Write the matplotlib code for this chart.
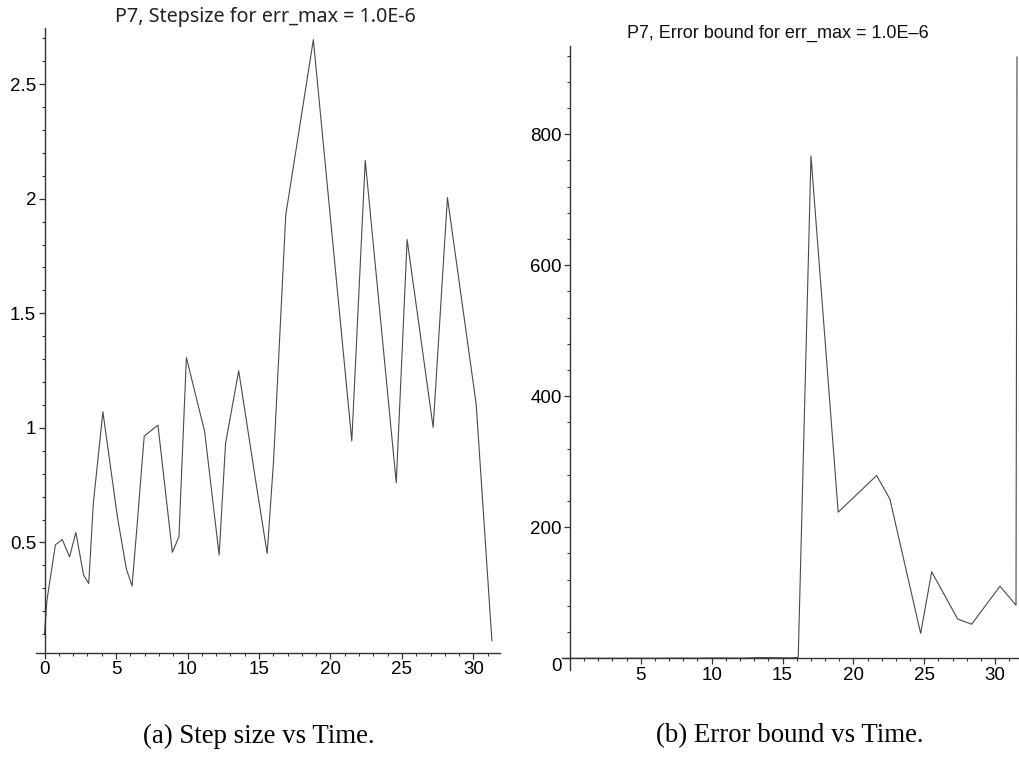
"""
plot.py
Step size and error bound vs time, problem P7 (err_max = 1.0E-6)
"""
import matplotlib
matplotlib.use('Agg')
import matplotlib.pyplot as plt
from matplotlib.ticker import MultipleLocator

# Step size data (time, step size)
step_time = [0.0, 0.17, 0.76, 1.24, 1.75, 2.19, 2.73, 3.09, 3.41, 4.08,
             5.10, 5.72, 6.12, 6.44, 6.97, 7.93, 8.94, 9.40, 9.92, 11.2,
             12.21, 12.66, 13.58, 14.84, 15.57, 16.02, 16.87, 18.80, 21.49, 22.43,
             24.60, 25.36, 27.18, 28.18, 30.19, 31.29]
step_size = [0.103, 0.249, 0.490, 0.513, 0.437, 0.544, 0.358, 0.321, 0.670, 1.070,
             0.610, 0.385, 0.310, 0.550, 0.964, 1.012, 0.457, 0.525, 1.307, 0.983,
             0.445, 0.932, 1.249, 0.740, 0.452, 0.858, 1.928, 2.694, 0.943, 2.167,
             0.760, 1.822, 1.002, 2.005, 1.103, 0.071]

# Error bound data (time, error bound)
err_time = [0.0, 0.76, 1.75, 2.73, 3.41, 4.08, 5.10, 6.12, 6.97, 7.93,
            8.94, 9.92, 11.2, 12.21, 12.66, 13.58, 14.84, 15.57, 16.11, 17.01,
            18.93, 21.64, 22.58, 24.75, 25.53, 27.36, 28.35, 30.35, 31.48, 31.55]
err_bound = [0.0, 0.0, 0.0, 0.0, 0.0, 0.1, 0.1, 0.0, 0.2, 0.3,
             0.1, 0.5, 0.4, 0.2, 0.6, 1.0, 0.8, 0.6, 1.5, 767,
             223, 279, 243, 38, 132, 60, 52, 110, 81, 918]

title_a = 'P7, Stepsize for err_max = 1.0E-6'
title_b = 'P7, Error bound for err_max = 1.0E\u20136'
caption_a = '(a) Step size vs Time.'
caption_b = '(b) Error bound vs Time.'

line_col = '#4a4a4a'
axis_col = '#333333'

fig = plt.figure(figsize=(10.19, 7.76), dpi=100)


def style_axes(ax):
    for side in ['top', 'right']:
        ax.spines[side].set_visible(False)
    for side in ['left', 'bottom']:
        ax.spines[side].set_color(axis_col)
        ax.spines[side].set_linewidth(1.0)
    ax.tick_params(which='major', direction='out', length=4.5, width=0.9,
                   color=axis_col, labelsize=13.5, pad=1.5)
    ax.tick_params(which='minor', direction='out', length=2.5, width=0.8,
                   color=axis_col)
    for lab in ax.get_xticklabels() + ax.get_yticklabels():
        lab.set_fontfamily('Liberation Sans')


# ---- (a) step size ----
ax1 = fig.add_axes([0.0353, 0.1589, 0.4553, 0.8050])
ax1.plot(step_time, step_size, color=line_col, linewidth=0.8)
ax1.set_xlim(-0.6, 31.85)
ax1.set_ylim(0.019, 2.745)
ax1.spines['left'].set_position(('data', 0))
ax1.xaxis.set_major_locator(MultipleLocator(5))
ax1.xaxis.set_minor_locator(MultipleLocator(1))
ax1.set_yticks([0.5, 1, 1.5, 2, 2.5], ['0.5', '1', '1.5', '2', '2.5'])
ax1.yaxis.set_minor_locator(MultipleLocator(0.1))
style_axes(ax1)

# ---- (b) error bound ----
ax2 = fig.add_axes([0.5515, 0.1366, 0.4475, 0.8041])
ax2.plot(err_time, err_bound, color=line_col, linewidth=0.8)
ax2.set_xlim(-0.565, 31.62)
ax2.set_ylim(-17.9, 934.7)
ax2.spines['left'].set_position(('data', 0))
ax2.spines['bottom'].set_position(('data', 0))
ax2.set_xticks([5, 10, 15, 20, 25, 30])
ax2.xaxis.set_minor_locator(MultipleLocator(1))
ax2.set_yticks([0, 200, 400, 600, 800], ['0', '200', '400', '600', '800'])
ax2.yaxis.set_minor_locator(MultipleLocator(40))
style_axes(ax2)
ax2.get_yticklabels()[0].set_va('top')

# titles and captions
fig.text(265 / 1019, 1 - 17 / 776, title_a, ha='center', va='center',
         fontsize=14.2, family='Noto Sans', color='#222222')
fig.text(778 / 1019, 1 - 33 / 776, title_b, ha='center', va='center',
         fontsize=13, family='Liberation Sans', color='#111111')
fig.text(259 / 1019, 1 - 736 / 776, caption_a, ha='center', va='center',
         fontsize=19.4, family='Liberation Serif', color='black')
fig.text(790 / 1019, 1 - 736 / 776, caption_b, ha='center', va='center',
         fontsize=19.4, family='Liberation Serif', color='black')

fig.savefig('out.png', dpi=100)
